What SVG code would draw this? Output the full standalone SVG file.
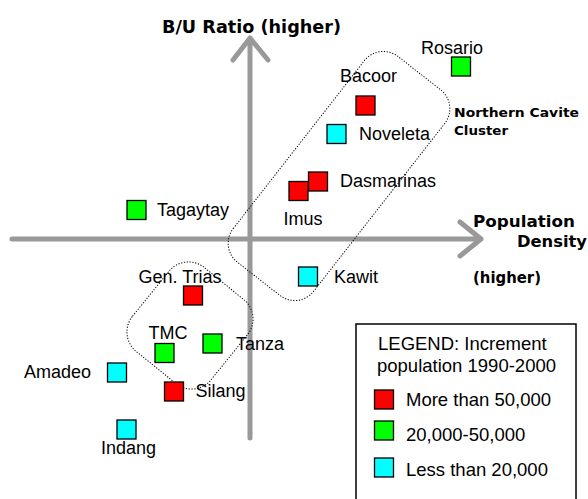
<svg xmlns="http://www.w3.org/2000/svg" width="588" height="499" viewBox="0 0 588 499">
<style>
.ax{fill:none;stroke:#999999;stroke-width:5;stroke-linecap:round;stroke-linejoin:round}
.clu{fill:none;stroke:#000;stroke-width:1;stroke-dasharray:1.2 1.6}
.sq{stroke:#000;stroke-width:1.3}
.r{fill:#ff0000}.g{fill:#00ff00}.c{fill:#00ffff}
.lb{font-family:"Liberation Sans",Arial,sans-serif;font-size:18px;fill:#000}
.lg{font-family:"Liberation Sans",Arial,sans-serif;font-size:18.5px;fill:#000}
.bd{font-family:"DejaVu Sans",Verdana,sans-serif;font-weight:bold;fill:#000}
</style>
<rect width="588" height="499" fill="#fff"/>
<g id="connectors">
<path class="ax" d="M250 438V38M233 60L250 38L268 60"/>
<path class="ax" d="M12 239H481M460 222L481 239L460 256"/>
</g>
<g id="axis-labels">
<text class="bd" x="162" y="33" font-size="17.3" textLength="179" lengthAdjust="spacingAndGlyphs">B/U Ratio (higher)</text>
<text class="bd" x="473" y="226.5" font-size="16.5" textLength="102" lengthAdjust="spacingAndGlyphs">Population</text>
<text class="bd" x="517" y="246.5" font-size="16.5" textLength="70" lengthAdjust="spacingAndGlyphs">Density</text>
<text class="bd" x="473" y="283" font-size="16.5" textLength="68" lengthAdjust="spacingAndGlyphs">(higher)</text>
</g>
<g id="northern-cluster">
<rect class="clu" x="-130.5" y="-51" width="261" height="102" rx="24" transform="translate(339 176) rotate(-52)"/>
<text class="bd" x="454" y="117" font-size="12.5" textLength="125" lengthAdjust="spacingAndGlyphs">Northern Cavite</text>
<text class="bd" x="454" y="135" font-size="12.5" textLength="54" lengthAdjust="spacingAndGlyphs">Cluster</text>
</g>
<g id="southern-cluster">
<rect class="clu" x="-54" y="-50.5" width="108" height="101" rx="25" transform="translate(190 325.5) rotate(-51)"/>
</g>
<g id="rosario"><rect class="sq g" x="451.5" y="57" width="19" height="19"/><text class="lb" x="421" y="54">Rosario</text></g>
<g id="bacoor"><rect class="sq r" x="356" y="96" width="19" height="19"/><text class="lb" x="340" y="81.5">Bacoor</text></g>
<g id="noveleta"><rect class="sq c" x="327" y="124.5" width="19" height="19"/><text class="lb" x="359" y="140">Noveleta</text></g>
<g id="dasmarinas"><rect class="sq r" x="308.5" y="172" width="19" height="19"/><text class="lb" x="340" y="187">Dasmarinas</text></g>
<g id="imus"><rect class="sq r" x="289" y="181.5" width="19" height="19"/><text class="lb" x="283.5" y="225">Imus</text></g>
<g id="kawit"><rect class="sq c" x="298.5" y="267" width="19" height="19"/><text class="lb" x="334" y="283">Kawit</text></g>
<g id="tagaytay"><rect class="sq g" x="127" y="200.5" width="19" height="19"/><text class="lb" x="157" y="216">Tagaytay</text></g>
<g id="gen-trias"><rect class="sq r" x="183.5" y="286" width="19" height="19"/><text class="lb" x="138.5" y="282.5">Gen. Trias</text></g>
<g id="tmc"><rect class="sq g" x="155" y="343.5" width="19" height="19"/><text class="lb" x="148.5" y="338.5">TMC</text></g>
<g id="tanza"><rect class="sq g" x="203" y="334" width="19" height="19"/><text class="lb" x="236" y="350">Tanza</text></g>
<g id="amadeo"><rect class="sq c" x="107.5" y="363" width="19" height="19"/><text class="lb" x="24" y="378">Amadeo</text></g>
<g id="silang"><rect class="sq r" x="164.5" y="382" width="19" height="19"/><text class="lb" x="195.5" y="396.5">Silang</text></g>
<g id="indang"><rect class="sq c" x="117" y="420" width="19" height="19"/><text class="lb" x="101" y="454">Indang</text></g>
<g id="legend">
<rect x="356" y="324" width="220" height="185" fill="#fff" stroke="#000" stroke-width="1.5"/>
<text class="lg" x="378" y="350">LEGEND: Increment</text>
<text class="lg" x="377" y="372">population 1990-2000</text>
<rect class="sq r" x="374.5" y="390" width="19" height="19"/>
<text class="lg" x="406" y="406">More than 50,000</text>
<rect class="sq g" x="374.5" y="421" width="19" height="19"/>
<text class="lg" x="406" y="441">20,000-50,000</text>
<rect class="sq c" x="374.5" y="458" width="19" height="19"/>
<text class="lg" x="406" y="476">Less than 20,000</text>
</g>
</svg>
